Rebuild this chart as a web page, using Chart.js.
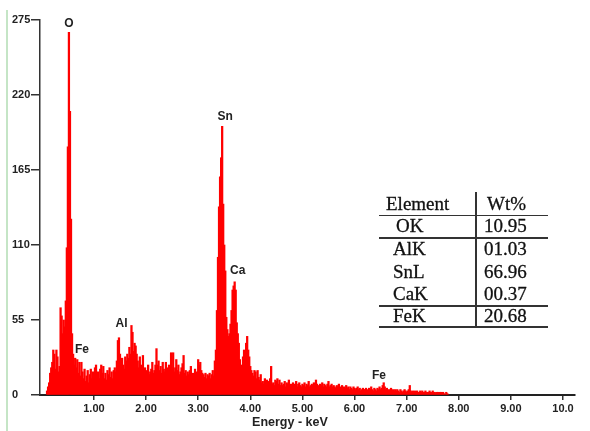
<!DOCTYPE html>
<html>
<head>
<meta charset="utf-8">
<title>EDS spectrum</title>
<script src="https://cdn.jsdelivr.net/npm/chart.js@4.4.0/dist/chart.umd.min.js"></script>
<style>
    html, body { margin: 0; padding: 0; background: #fff; }
    #wrap { position: relative; width: 590px; height: 431px; overflow: hidden; }
    #spectrum { position: absolute; left: 0; top: 0; }
    .edge { position: absolute; left: 6px; top: 10px; width: 2px; height: 421px; background: #c5e5c6; }
    .wt-table { position: absolute; left: 0; top: 0; font-family: "Liberation Serif", "Times New Roman", serif; font-size: 19px; color: #111; -webkit-text-stroke: 0.3px #111; }
    .wt-table .cell { position: absolute; line-height: 20px; white-space: nowrap; }
    .wt-table .hline { position: absolute; left: 379px; width: 169px; height: 1.5px; background: #333; }
    .wt-table .vline { position: absolute; left: 475px; top: 192px; width: 2px; height: 135px; background: #333; }
</style>
</head>
<body>
<div id="wrap">
    <div class="edge"></div>
    <canvas id="spectrum" width="590" height="431"></canvas>
    <div class="wt-table" id="wtTable"></div>
</div>
<script>
// spectrum bins: 0.02 keV wide, first bin at 0.10 keV
const startKeV = 0.10;
const binKeV = 0.02;
const counts = [
    3, 6, 9, 16, 20, 24, 33, 30, 19, 33,          // 0.10
    28, 17, 21, 64, 58, 45, 55, 50, 69, 108,      // 0.30
    182, 266, 208, 129, 45, 30, 22, 27, 20, 26,   // 0.50
    16, 24, 14, 24, 17, 12, 19, 10, 14, 18,       // 0.70
    9, 15, 19, 12, 17, 14, 20, 22, 13, 17,        // 0.90
    12, 19, 22, 16, 21, 12, 16, 11, 18, 15,       // 1.10
    20, 13, 17, 12, 18, 20, 17, 25, 40, 42,       // 1.30
    30, 24, 27, 22, 19, 28, 25, 30, 27, 35,       // 1.50
    30, 51, 46, 32, 38, 36, 30, 25, 20, 28,       // 1.70
    22, 18, 29, 17, 20, 16, 18, 22, 15, 17,       // 1.90
    19, 24, 16, 18, 22, 34, 22, 25, 18, 21,       // 2.10
    16, 24, 19, 17, 24, 20, 15, 22, 18, 31,       // 2.30
    20, 31, 17, 20, 26, 18, 22, 15, 17, 20,       // 2.50
    23, 29, 16, 18, 14, 17, 15, 18, 21, 13,       // 2.70
    16, 15, 19, 14, 17, 26, 22, 24, 18, 16,       // 2.90
    15, 13, 16, 12, 15, 14, 16, 12, 15, 18,       // 3.10
    14, 25, 33, 62, 101, 138, 160, 174, 197, 140, // 3.30
    110, 91, 57, 48, 43, 45, 52, 62, 77, 80,      // 3.50
    83, 77, 53, 45, 38, 26, 22, 18, 28, 33,       // 3.70
    30, 38, 43, 33, 28, 21, 18, 16, 14, 18,       // 3.90
    17, 12, 18, 13, 11, 15, 9, 10, 8, 12,         // 4.10
    9, 11, 8, 10, 12, 21, 8, 9, 7, 11,            // 4.30
    10, 12, 8, 11, 7, 9, 7, 8, 10, 6,             // 4.50
    9, 8, 11, 7, 8, 6, 9, 7, 8, 10,               // 4.70
    6, 8, 9, 7, 6, 8, 7, 9, 6, 8,                 // 4.90
    7, 10, 6, 7, 8, 7, 9, 6, 11, 8,               // 5.10
    7, 6, 8, 7, 9, 6, 8, 7, 6, 8,                 // 5.30
    10, 6, 7, 8, 6, 7, 6, 5, 7, 6,                // 5.50
    8, 5, 6, 7, 5, 6, 5, 7, 5, 6,                 // 5.70
    4, 6, 5, 4, 6, 5, 4, 5, 6, 4,                 // 5.90
    5, 3, 4, 5, 4, 4, 5, 3, 4, 5,                 // 6.10
    4, 6, 4, 3, 5, 4, 3, 5, 4, 6,                 // 6.30
    4, 5, 7, 9, 6, 4, 5, 3, 4, 3,                 // 6.50
    5, 3, 4, 3, 4, 3, 4, 3, 2, 4,                 // 6.70
    3, 2, 3, 4, 3, 2, 3, 4, 7, 3,                 // 6.90
    2, 3, 2, 3, 2, 3, 2, 2, 3, 2,                 // 7.10
    3, 2, 2, 3, 2, 2, 2, 3, 2, 2,                 // 7.30
    3, 2, 2, 1, 2, 2, 1, 2, 2, 1,                 // 7.50
    2, 1, 0, 2, 1, 0                              // 7.70
];

const xTicks = [1, 2, 3, 4, 5, 6, 7, 8, 9, 10];
const yTicks = [0, 55, 110, 165, 220, 275];

const peakNames = ['O', 'Fe', 'Al', 'Sn', 'Ca', 'Fe'];
const peakKeV = [0.52, 0.77, 1.53, 3.52, 3.76, 6.47];
const peakCounts = [272, 33, 52, 204, 91, 14];

const elements = ['OK', 'AlK', 'SnL', 'CaK', 'FeK'];
const wtPct = ['10.95', '01.03', '66.96', '00.37', '20.68'];

const axisTitle = 'Energy - keV';

// --- weight table overlay ---
const table = document.getElementById('wtTable');
const rowMid = [204, 226, 249, 272, 294, 316];
const lineY = [214.5, 237, 305, 326];

function addCell(text, left, mid) {
    const d = document.createElement('div');
    d.className = 'cell';
    d.textContent = text;
    d.style.left = left + 'px';
    d.style.top = (mid - 10) + 'px';
    table.appendChild(d);
}

addCell('Element', 386, rowMid[0]);
addCell('Wt%', 487, rowMid[0]);
elements.forEach((el, i) => {
    addCell(el, el === 'OK' ? 396 : 393, rowMid[i + 1]);
    addCell(wtPct[i], 484, rowMid[i + 1]);
});
lineY.forEach(y => {
    const l = document.createElement('div');
    l.className = 'hline';
    l.style.top = y + 'px';
    table.appendChild(l);
});
const v = document.createElement('div');
v.className = 'vline';
table.appendChild(v);

// --- labels on peaks + x axis title ---
const peakLabels = {
    id: 'peakLabels',
    afterDatasetsDraw(chart) {
        const { ctx, scales: { x, y } } = chart;
        ctx.save();
        ctx.fillStyle = '#222';
        ctx.textAlign = 'center';
        ctx.textBaseline = 'middle';
        ctx.font = 'bold 12px "Liberation Sans", Arial, sans-serif';
        peakNames.forEach((name, i) => {
            ctx.fillText(name, x.getPixelForValue(peakKeV[i]), y.getPixelForValue(peakCounts[i]));
        });
        ctx.font = 'bold 12.5px "Liberation Sans", Arial, sans-serif';
        ctx.fillText(axisTitle, x.getPixelForValue(4.76), chart.height - 8);
        ctx.restore();
    }
};

const tickFont = { family: '"Liberation Sans", Arial, sans-serif', size: 11, weight: 'bold' };

new Chart(document.getElementById('spectrum'), {
    type: 'bar',
    data: {
        datasets: [{
            data: counts.map((c, i) => ({ x: +(startKeV + i * binKeV).toFixed(2), y: c })),
            backgroundColor: 'rgb(255, 0, 0)',
            borderWidth: 0,
            barThickness: 1.6
        }]
    },
    options: {
        responsive: false,
        animation: false,
        layout: { padding: { left: 12, top: 20, right: 15, bottom: 0 } },
        plugins: { legend: { display: false }, tooltip: { enabled: false } },
        scales: {
            x: {
                type: 'linear',
                offset: false,
                min: -0.035,
                max: 10.23,
                afterBuildTicks: s => { s.ticks = xTicks.map(t => ({ value: t })); },
                afterFit: s => { s.height = 36; },
                ticks: {
                    font: tickFont,
                    color: '#222',
                    padding: 2,
                    maxRotation: 0,
                    autoSkip: false,
                    callback: val => val === 10 ? '10.0' : val.toFixed(2)
                },
                grid: { offset: false, drawOnChartArea: false, tickLength: 5, color: '#333', lineWidth: 1.5 },
                border: { color: '#222', width: 2 }
            },
            y: {
                min: 0,
                max: 275,
                afterBuildTicks: s => { s.ticks = yTicks.map(t => ({ value: t })); },
                afterFit: s => { s.width = 28; },
                ticks: { font: tickFont, color: '#222', padding: 2, crossAlign: 'far' },
                grid: { drawOnChartArea: false, tickLength: 9, color: '#333', lineWidth: 1.5 },
                border: { color: '#333', width: 1.5 }
            }
        }
    },
    plugins: [peakLabels]
});
</script>
</body>
</html>
